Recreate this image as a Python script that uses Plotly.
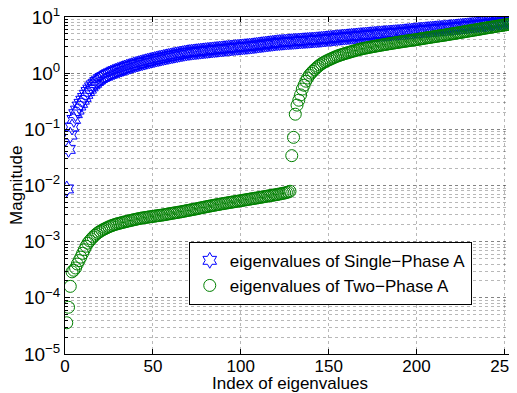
import plotly.graph_objects as go

single_phase = [
    0.0087, 0.044, 0.079, 0.11, 0.15, 0.19, 0.22, 0.26, 0.29, 0.33,
    0.37, 0.42, 0.47, 0.52, 0.57, 0.62, 0.66, 0.71, 0.75, 0.80,
    0.84, 0.87, 0.90, 0.94, 0.97, 1.00, 1.03, 1.06, 1.09, 1.12,
    1.15, 1.18, 1.21, 1.24, 1.27, 1.30, 1.33, 1.36, 1.39, 1.42,
    1.45, 1.48, 1.51, 1.54, 1.57, 1.60, 1.63, 1.66, 1.69, 1.72,
    1.75, 1.78, 1.81, 1.84, 1.87, 1.90, 1.93, 1.96, 1.99, 2.02,
    2.05, 2.08, 2.11, 2.14, 2.17, 2.20, 2.23, 2.26, 2.29, 2.32,
    2.34, 2.36, 2.38, 2.40, 2.42, 2.44, 2.46, 2.48, 2.50, 2.52,
    2.54, 2.56, 2.58, 2.60, 2.62, 2.64, 2.66, 2.68, 2.70, 2.72,
    2.74, 2.76, 2.78, 2.80, 2.82, 2.84, 2.86, 2.88, 2.90, 2.92,
    2.94, 2.96, 2.98, 3.00, 3.02, 3.04, 3.07, 3.10, 3.13, 3.16,
    3.19, 3.22, 3.25, 3.28, 3.31, 3.34, 3.37, 3.40, 3.43, 3.46,
    3.49, 3.51, 3.53, 3.55, 3.57, 3.59, 3.61, 3.63, 3.65, 3.67,
    3.69, 3.71, 3.73, 3.75, 3.77, 3.79, 3.81, 3.83, 3.85, 3.87,
    3.89, 3.91, 3.93, 3.95, 3.98, 4.01, 4.04, 4.07, 4.10, 4.13,
    4.16, 4.19, 4.22, 4.25, 4.28, 4.31, 4.34, 4.37, 4.40, 4.43,
    4.46, 4.49, 4.52, 4.55, 4.58, 4.61, 4.64, 4.67, 4.70, 4.73,
    4.76, 4.79, 4.82, 4.85, 4.88, 4.91, 4.94, 4.97, 5.00, 5.03,
    5.06, 5.09, 5.12, 5.15, 5.18, 5.21, 5.24, 5.27, 5.30, 5.33,
    5.37, 5.41, 5.45, 5.49, 5.53, 5.57, 5.61, 5.65, 5.69, 5.73,
    5.77, 5.81, 5.85, 5.89, 5.93, 5.97, 6.01, 6.05, 6.09, 6.13,
    6.17, 6.21, 6.25, 6.29, 6.33, 6.37, 6.41, 6.45, 6.49, 6.53,
    6.58, 6.63, 6.68, 6.73, 6.78, 6.83, 6.88, 6.93, 6.98, 7.03,
    7.08, 7.13, 7.18, 7.23, 7.28, 7.33, 7.38, 7.43, 7.48, 7.53,
    7.60, 7.67, 7.74, 7.81, 7.88, 7.95, 8.02, 8.09, 8.16, 8.23,
    8.30, 8.38, 8.46, 8.54, 8.62, 8.70,
]

two_phase = [
    3.6e-5, 6.8e-5, 1.6e-4, 2.9e-4, 3.1e-4, 3.4e-4, 4.0e-4, 4.6e-4, 5.3e-4, 6.2e-4,
    7.2e-4, 8.3e-4, 9.4e-4, 1.03e-3, 1.12e-3, 1.21e-3, 1.30e-3, 1.38e-3, 1.46e-3, 1.53e-3,
    1.60e-3, 1.66e-3, 1.72e-3, 1.78e-3, 1.84e-3, 1.90e-3, 1.95e-3, 2.00e-3, 2.05e-3, 2.09e-3,
    2.13e-3, 2.17e-3, 2.21e-3, 2.25e-3, 2.29e-3, 2.33e-3, 2.37e-3, 2.41e-3, 2.45e-3, 2.49e-3,
    2.53e-3, 2.57e-3, 2.61e-3, 2.64e-3, 2.67e-3, 2.70e-3, 2.73e-3, 2.76e-3, 2.79e-3, 2.82e-3,
    2.85e-3, 2.88e-3, 2.91e-3, 2.94e-3, 2.97e-3, 3.00e-3, 3.04e-3, 3.08e-3, 3.12e-3, 3.16e-3,
    3.20e-3, 3.24e-3, 3.28e-3, 3.32e-3, 3.36e-3, 3.40e-3, 3.45e-3, 3.50e-3, 3.55e-3, 3.60e-3,
    3.65e-3, 3.70e-3, 3.75e-3, 3.80e-3, 3.86e-3, 3.92e-3, 3.98e-3, 4.04e-3, 4.10e-3, 4.16e-3,
    4.22e-3, 4.28e-3, 4.34e-3, 4.40e-3, 4.46e-3, 4.52e-3, 4.58e-3, 4.64e-3, 4.70e-3, 4.76e-3,
    4.82e-3, 4.88e-3, 4.94e-3, 5.00e-3, 5.06e-3, 5.12e-3, 5.18e-3, 5.24e-3, 5.30e-3, 5.36e-3,
    5.43e-3, 5.50e-3, 5.57e-3, 5.64e-3, 5.71e-3, 5.78e-3, 5.85e-3, 5.92e-3, 5.99e-3, 6.06e-3,
    6.14e-3, 6.22e-3, 6.30e-3, 6.38e-3, 6.46e-3, 6.54e-3, 6.62e-3, 6.70e-3, 6.78e-3, 6.86e-3,
    6.95e-3, 7.05e-3, 7.15e-3, 7.25e-3, 7.35e-3, 7.50e-3, 7.65e-3, 7.90e-3,
    0.034, 0.072, 0.186, 0.27, 0.33, 0.41, 0.52, 0.61, 0.72, 0.82,
    0.92, 1.00, 1.08, 1.16, 1.24, 1.32, 1.40, 1.47, 1.54, 1.60,
    1.66, 1.72, 1.78, 1.84, 1.90, 1.96, 2.02, 2.07, 2.12, 2.17,
    2.22, 2.27, 2.32, 2.37, 2.42, 2.47, 2.52, 2.57, 2.62, 2.67,
    2.72, 2.76, 2.80, 2.84, 2.88, 2.92, 2.96, 3.00, 3.04, 3.08,
    3.12, 3.16, 3.20, 3.24, 3.28, 3.32, 3.36, 3.40, 3.44, 3.48,
    3.52, 3.56, 3.60, 3.64, 3.68, 3.72, 3.76, 3.80, 3.84, 3.88,
    3.92, 3.96, 4.01, 4.06, 4.11, 4.16, 4.21, 4.26, 4.31, 4.36,
    4.41, 4.46, 4.51, 4.56, 4.61, 4.66, 4.71, 4.76, 4.82, 4.88,
    4.94, 5.00, 5.06, 5.12, 5.18, 5.24, 5.30, 5.37, 5.44, 5.51,
    5.58, 5.65, 5.72, 5.79, 5.86, 5.93, 6.00, 6.08, 6.16, 6.24,
    6.32, 6.40, 6.48, 6.56, 6.64, 6.72, 6.80, 6.88, 6.96, 7.04,
    7.12, 7.20, 7.29, 7.38, 7.47, 7.56, 7.65, 7.75,
]

index_single = list(range(1, len(single_phase) + 1))
index_two = list(range(1, len(two_phase) + 1))

x_tick_vals = [0, 50, 100, 150, 200, 250]
x_tick_text = ["0", "50", "100", "150", "200", "250"]
y_tick_vals = [1e-5, 1e-4, 1e-3, 1e-2, 1e-1, 1e0, 1e1]
y_tick_text = ["10<sup>\u22125</sup>", "10<sup>\u22124</sup>", "10<sup>\u22123</sup>",
               "10<sup>\u22122</sup>", "10<sup>\u22121</sup>", "10<sup>0</sup>", "10<sup>1</sup>"]

FONT = "Liberation Sans, Arial, Helvetica, sans-serif"
GRID = "rgba(0,0,0,0.28)"

fig = go.Figure()
fig.add_trace(go.Scatter(
    x=index_single, y=single_phase, mode="markers",
    name="eigenvalues of Single\u2212Phase A",
    marker=dict(symbol="hexagram-open", size=12, color="#0000ff",
                line=dict(width=1, color="#0000ff")),
))
fig.add_trace(go.Scatter(
    x=index_two, y=two_phase, mode="markers",
    name="eigenvalues of Two\u2212Phase A",
    marker=dict(symbol="circle-open", size=12, color="#008000",
                line=dict(width=1, color="#008000")),
))

# The page body adds an 8px offset, so the figure is 509x385 and fills the window.
fig.update_layout(
    width=509, height=385,
    margin=dict(l=57, r=2, t=9, b=39),
    paper_bgcolor="white", plot_bgcolor="white",
    font=dict(family=FONT, size=17, color="black"),
    showlegend=True,
    legend=dict(
        x=0.275, y=0.333, xanchor="left", yanchor="top",
        bgcolor="white", bordercolor="black", borderwidth=1,
        font=dict(family=FONT, size=17, color="black"),
        tracegroupgap=0,
    ),
    xaxis=dict(
        range=[0, 256], tickvals=x_tick_vals, ticktext=x_tick_text,
        showline=True, linecolor="black", linewidth=1, mirror="ticks",
        ticks="inside", ticklen=5, tickcolor="black",
        showgrid=True, gridcolor=GRID, griddash="dot", gridwidth=1,
        zeroline=False, automargin=False,
        ticklabeloverflow="allow", ticklabelstandoff=-3,
        tickfont=dict(size=17),
    ),
    yaxis=dict(
        type="log", range=[-5, 1], tickvals=y_tick_vals, ticktext=y_tick_text,
        showline=True, linecolor="black", linewidth=1, mirror="ticks",
        ticks="inside", ticklen=5, tickcolor="black",
        showgrid=True, gridcolor=GRID, griddash="dot", gridwidth=1,
        zeroline=False, automargin=False,
        ticklabeloverflow="allow",
        minor=dict(dtick="D1", showgrid=True, gridcolor=GRID, griddash="dot",
                   gridwidth=1, ticks="inside", ticklen=3, tickcolor="black"),
        tickfont=dict(size=19),
    ),
    annotations=[
        dict(text="Index of eigenvalues", xref="paper", yref="paper",
             x=0.5, y=-0.087, xanchor="center", yanchor="middle", showarrow=False,
             font=dict(family=FONT, size=17, color="black")),
        dict(text="Magnitude", xref="paper", yref="paper",
             x=-0.108, y=0.5, xanchor="center", yanchor="middle", showarrow=False,
             textangle=-90, font=dict(family=FONT, size=17, color="black")),
    ],
)

fig.write_html("out.html")
